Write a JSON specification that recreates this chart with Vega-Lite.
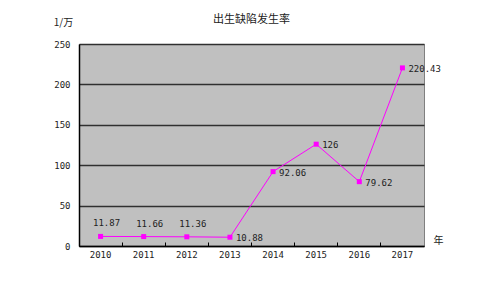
{
  "$schema": "https://vega.github.io/schema/vega-lite/v6.json",
  "autosize": {"type": "none"},
  "width": 345,
  "height": 202,
  "padding": {"left": 79, "top": 44, "right": 75, "bottom": 48},
  "background": "white",
  "title": {"text": "出生缺陷发生率", "font": "Noto Sans CJK SC", "fontSize": 11, "fontWeight": "normal", "color": "#222222", "anchor": "middle", "frame": "group", "offset": -8},
  "config": {
    "view": {"fill": "#C0C0C0", "stroke": "#808080", "strokeWidth": 1},
    "axis": {"labelFont": "DejaVu Sans Mono", "labelFontSize": 9, "labelColor": "#222222", "titleFont": "Noto Sans CJK SC", "titleFontSize": 10, "titleFontWeight": "normal", "titleColor": "#222222"}
  },
  "data": {"values": [
    {"year": "2010", "rate": 11.87},
    {"year": "2011", "rate": 11.66},
    {"year": "2012", "rate": 11.36},
    {"year": "2013", "rate": 10.88},
    {"year": "2014", "rate": 92.06},
    {"year": "2015", "rate": 126},
    {"year": "2016", "rate": 79.62},
    {"year": "2017", "rate": 220.43}
  ]},
  "encoding": {
    "x": {"field": "year", "type": "ordinal",
      "scale": {"type": "band", "paddingInner": 0, "paddingOuter": 0},
      "axis": {"title": "年", "titleAngle": 0, "titleX": 359, "titleY": -6, "titleAlign": "center", "titleBaseline": "middle",
        "labelAngle": 0, "labelPadding": 8, "bandPosition": 0, "tickSize": -4, "tickColor": "#000000", "domainColor": "#000000", "domainWidth": 1.5, "grid": false}},
    "y": {"field": "rate", "type": "quantitative",
      "scale": {"domain": [0, 250], "nice": false},
      "axis": {"title": "1/万", "titleAngle": 0, "titleX": -16, "titleY": -22, "titleAlign": "center", "titleBaseline": "middle",
        "values": [0, 50, 100, 150, 200, 250], "ticks": false, "labelPadding": 9, "domainColor": "#000000", "domainWidth": 1.5,
        "grid": true, "gridColor": "#303030", "gridWidth": 1.5}}
  },
  "layer": [
    {"mark": {"type": "line", "color": "#FF00FF", "strokeWidth": 1}},
    {"mark": {"type": "point", "shape": "square", "filled": true, "opacity": 1, "color": "#FF00FF", "size": 25}},
    {"transform": [{"filter": "datum.year <= '2012'"}],
     "mark": {"type": "text", "font": "DejaVu Sans Mono", "fontSize": 9, "color": "#222222", "align": "center", "baseline": "middle", "dx": 6, "dy": -13},
     "encoding": {"text": {"field": "rate", "type": "nominal"}}},
    {"transform": [{"filter": "datum.year > '2012'"}],
     "mark": {"type": "text", "font": "DejaVu Sans Mono", "fontSize": 9, "color": "#222222", "align": "left", "baseline": "middle", "dx": 6, "dy": 1},
     "encoding": {"text": {"field": "rate", "type": "nominal"}}}
  ]
}
